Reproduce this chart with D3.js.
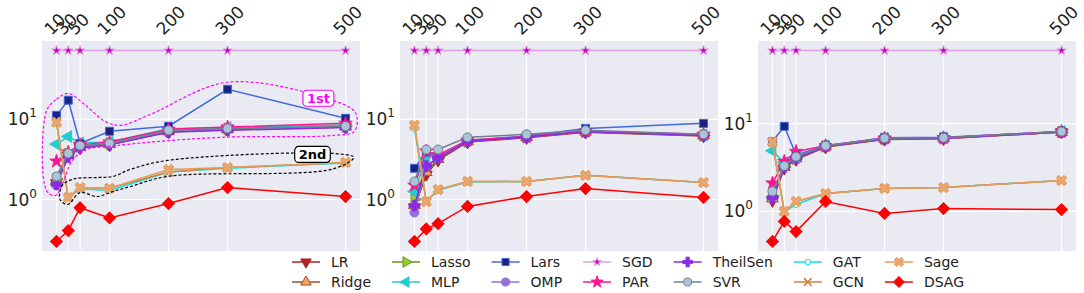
<!DOCTYPE html>
<html>
<head>
<meta charset="utf-8">
<script src="https://cdn.jsdelivr.net/npm/d3@7"></script>
<style>
body { margin: 0; background: #fff; }
svg text { font-family: "DejaVu Sans", sans-serif; }
</style>
</head>
<body>
<svg id="chart" width="1084" height="293"></svg>
<script>
// sample sizes on the x axis (ticks on top)
const sizes = [10, 30, 50, 100, 200, 300, 500];
const methods = ['LR', 'Ridge', 'Lasso', 'MLP', 'Lars', 'OMP', 'SGD', 'PAR', 'TheilSen', 'SVR', 'GAT', 'GCN', 'Sage', 'DSAG'];

// one row per method, same order as `methods`
const panelA = [
    [1.6, 3.5, 4.4, 4.8, 7.0, 7.4, 8.0],      // LR
    [1.7, 3.6, 4.5, 4.9, 7.1, 7.5, 8.1],      // Ridge
    [1.8, 3.7, 4.6, 5.0, 7.2, 7.6, 8.2],      // Lasso
    [4.9, 6.1, 5.1, 5.2, 7.6, 7.9, 8.5],      // MLP
    [11.2, 17.3, 5.0, 7.1, 8.2, 23.7, 10.3],  // Lars
    [1.5, 3.6, 4.5, 4.9, 7.0, 7.5, 8.0],      // OMP
    [72, 72, 72, 72, 72, 72, 72],             // SGD
    [3.0, 3.9, 4.8, 5.2, 7.5, 8.0, 8.9],      // PAR
    [1.55, 3.4, 4.4, 4.8, 6.9, 7.3, 7.9],     // TheilSen
    [1.94, 3.76, 4.7, 5.0, 7.3, 7.7, 8.2],    // SVR
    [9.0, 1.05, 1.36, 1.3, 2.2, 2.45, 2.85],  // GAT
    [9.2, 1.06, 1.41, 1.38, 2.2, 2.5, 2.9],   // GCN
    [9.2, 1.06, 1.41, 1.38, 2.37, 2.5, 2.9],  // Sage
    [0.30, 0.41, 0.79, 0.59, 0.89, 1.41, 1.09] // DSAG
];
const panelB = [
    [0.8, 2.05, 3.1, 5.2, 5.9, 6.9, 6.2],
    [0.85, 2.2, 3.2, 5.3, 6.0, 7.0, 6.3],
    [1.0, 2.6, 3.3, 5.3, 6.0, 7.0, 6.3],
    [1.26, 3.3, 3.5, 5.5, 6.1, 7.1, 6.4],
    [2.45, 3.9, 3.3, 5.4, 6.2, 7.7, 8.9],
    [0.69, 2.6, 3.3, 5.3, 6.0, 7.0, 6.3],
    [72, 72, 72, 72, 72, 72, 72],
    [1.5, 4.0, 3.6, 5.5, 6.1, 7.1, 6.5],
    [0.84, 2.6, 3.3, 5.3, 6.0, 7.0, 6.3],
    [1.68, 4.2, 4.2, 5.96, 6.5, 7.3, 6.5],
    [7.7, 0.95, 1.3, 1.65, 1.68, 2.0, 1.63],
    [8.4, 0.94, 1.33, 1.68, 1.68, 2.0, 1.63],
    [8.4, 0.94, 1.33, 1.68, 1.68, 2.0, 1.63],
    [0.30, 0.43, 0.50, 0.82, 1.09, 1.37, 1.06]
];
const panelC = [
    [1.33, 3.1, 3.9, 5.4, 6.6, 6.7, 8.0],
    [1.4, 3.2, 4.0, 5.5, 6.7, 6.8, 8.0],
    [1.5, 3.2, 4.0, 5.5, 6.7, 6.8, 8.0],
    [4.9, 3.6, 4.1, 5.6, 6.8, 6.9, 8.1],
    [6.2, 9.3, 4.4, 5.6, 6.9, 7.0, 8.1],
    [1.44, 3.2, 4.0, 5.5, 6.7, 6.8, 8.0],
    [67.6, 67.6, 67.6, 67.6, 67.6, 67.6, 67.6],
    [2.1, 3.7, 4.8, 5.6, 6.8, 6.9, 8.1],
    [1.44, 3.2, 4.0, 5.5, 6.7, 6.8, 8.0],
    [1.69, 3.3, 4.2, 5.6, 6.8, 6.9, 8.1],
    [6.0, 1.0, 1.2, 1.6, 1.83, 1.87, 2.25],
    [6.2, 1.0, 1.3, 1.6, 1.83, 1.87, 2.25],
    [6.2, 1.0, 1.3, 1.6, 1.83, 1.87, 2.25],
    [0.456, 0.77, 0.59, 1.3, 0.95, 1.08, 1.05]
];

// hand-drawn group outlines on the first panel, in data units [size, value]
const firstOutline = [[-7, 12.6], [10, 17.8], [30, 21], [59, 15], [93, 9.4], [118, 8.4], [169, 11.5], [300, 29],
    [470, 18], [517, 12], [515, 7.1], [480, 6.3], [300, 6.0], [169, 5.2], [101, 4.6], [59, 4.2], [36, 3.0],
    [20, 1.55], [8, 1.12], [-7, 1.3]];
const secondOutline = [[20, 1.5], [39, 1.8], [79, 1.88], [106, 1.94], [135, 2.37], [198, 3.07], [478, 3.76],
    [514, 3.35], [478, 2.4], [198, 1.94], [135, 1.45], [106, 1.26], [79, 1.09], [50, 1.22], [29, 0.87], [16, 1.0]];
const groupLabels = [['1st', 454, 18.3, '#ff00ff'], ['2nd', 444, 3.65, '#000000']];

const T = d3.symbolTriangle, S = d3.symbolSquare, C = d3.symbolCircle;
const styles = {
    LR:       { line: '#b22222', face: '#b22222', edge: '#b22222', sym: T, rot: 180, size: 60 },
    Ridge:    { line: '#a0522d', face: '#f4a460', edge: '#a0522d', sym: T, rot: 0, size: 60 },
    Lasso:    { line: '#6b8e23', face: '#9acd32', edge: '#6b8e23', sym: T, rot: 90, size: 60 },
    MLP:      { line: '#22cccc', face: '#22cccc', edge: '#22cccc', sym: T, rot: -90, size: 60 },
    Lars:     { line: '#4169e1', face: '#1a237e', edge: '#4169e1', sym: S, rot: 0, size: 64 },
    OMP:      { line: '#9370db', face: '#9370db', edge: '#9370db', sym: C, rot: 0, size: 64 },
    SGD:      { line: '#dda0dd', face: '#cc00cc', edge: '#dda0dd', sym: d3.symbolStar, rot: 0, size: 28 },
    PAR:      { line: '#ff1493', face: '#ff1493', edge: '#ff1493', sym: d3.symbolStar, rot: 0, size: 55 },
    TheilSen: { line: '#8a2be2', face: '#8a2be2', edge: '#8a2be2', sym: d3.symbolCross, rot: 0, size: 64 },
    SVR:      { line: '#708090', face: '#a9c4d8', edge: '#708090', sym: C, rot: 0, size: 64 },
    GAT:      { line: '#00e5ee', face: '#ffffff', edge: '#00e5ee', sym: C, rot: 0, size: 30 },
    GCN:      { line: '#cd853f', face: 'none', edge: '#cd853f', sym: d3.symbolTimes, rot: 0, size: 50 },
    Sage:     { line: '#e89c5a', face: '#e8a870', edge: '#e89c5a', sym: d3.symbolCross, rot: 45, size: 60 },
    DSAG:     { line: '#ff0000', face: '#ff0000', edge: '#ff0000', sym: S, rot: 45, size: 70 }
};

const svg = d3.select('#chart');
const panelTop = 41, panelH = 210, panelW = 318;
const panelLefts = [42, 400, 758];

function marker(sel, st, scale) {
    sel.append('path')
        .attr('d', d3.symbol().type(st.sym).size(st.size * scale))
        .attr('transform', `rotate(${st.rot})`)
        .attr('fill', st.face)
        .attr('stroke', st.edge)
        .attr('stroke-width', st.sym === d3.symbolTimes ? 1.6 : 1);
}

function drawPanel(rows, left, withNotes) {
    let x = d3.scaleLinear().domain([-14.5, 524.5]).range([left, left + panelW]);
    let all = rows.flat().map(v => Math.log10(v));
    let lo = d3.min(all), hi = d3.max(all), pad = (hi - lo) * 0.05;
    let y = d3.scaleLog().domain([10 ** (lo - pad), 10 ** (hi + pad)]).range([panelTop + panelH, panelTop]);

    let g = svg.append('g');
    g.append('rect')
        .attr('x', left).attr('y', panelTop)
        .attr('width', panelW).attr('height', panelH)
        .attr('fill', '#eaeaf2');

    g.selectAll('.vgrid').data(sizes).join('line')
        .attr('x1', d => x(d)).attr('x2', d => x(d))
        .attr('y1', panelTop).attr('y2', panelTop + panelH)
        .attr('stroke', '#fff').attr('stroke-width', 1.2);
    let decades = [1, 10];
    g.selectAll('.hgrid').data(decades).join('line')
        .attr('x1', left).attr('x2', left + panelW)
        .attr('y1', d => y(d)).attr('y2', d => y(d))
        .attr('stroke', '#fff').attr('stroke-width', 1.2);

    // y tick labels 10^0, 10^1
    let yl = g.selectAll('.ylab').data(decades).join('text')
        .attr('x', left - 5).attr('y', d => y(d) + 6)
        .attr('text-anchor', 'end')
        .style('font-size', '17px').attr('fill', '#222');
    yl.append('tspan').text('10');
    yl.append('tspan').attr('dy', -8).style('font-size', '12px').text(d => Math.round(Math.log10(d)));

    // x tick labels along the top, rotated
    g.selectAll('.xlab').data(sizes).join('text')
        .attr('transform', d => `translate(${x(d) - 5}, ${panelTop - 5}) rotate(-45)`)
        .style('font-size', '17px').attr('fill', '#222')
        .text(d => d);

    let line = d3.line().x((d, i) => x(sizes[i])).y(d => y(d));
    rows.forEach((vals, k) => {
        let st = styles[methods[k]];
        g.append('path')
            .attr('d', line(vals))
            .attr('fill', 'none')
            .attr('stroke', st.line)
            .attr('stroke-width', 1.5);
        g.selectAll(null).data(vals).join('g')
            .attr('transform', (d, i) => `translate(${x(sizes[i])}, ${y(d)})`)
            .each(function () { marker(d3.select(this), st, 1); });
    });

    if (withNotes) {
        let outline = d3.line().curve(d3.curveCatmullRomClosed.alpha(0.5))
            .x(d => x(d[0])).y(d => y(d[1]));
        g.append('path').attr('d', outline(firstOutline))
            .attr('fill', 'none').attr('stroke', '#ff00ff')
            .attr('stroke-width', 1.2).attr('stroke-dasharray', '3,2');
        g.append('path').attr('d', outline(secondOutline))
            .attr('fill', 'none').attr('stroke', '#000')
            .attr('stroke-width', 1.2).attr('stroke-dasharray', '3,2');
        groupLabels.forEach(([txt, sx, sv, col]) => {
            let lg = g.append('g').attr('transform', `translate(${x(sx)}, ${y(sv)})`);
            let t = lg.append('text').attr('text-anchor', 'middle').attr('dy', 5)
                .style('font-size', '13px').style('font-weight', 'bold')
                .attr('fill', col).text(txt);
            let w = t.node().getComputedTextLength();
            lg.insert('rect', 'text')
                .attr('x', -w / 2 - 4).attr('y', -8)
                .attr('width', w + 8).attr('height', 16)
                .attr('rx', 4)
                .attr('fill', '#fff').attr('stroke', col).attr('stroke-width', 1.2);
        });
    }
}

drawPanel(panelA, panelLefts[0], true);
drawPanel(panelB, panelLefts[1], false);
drawPanel(panelC, panelLefts[2], false);

// legend: 7 columns x 2 rows, filled column by column
let legend = svg.append('g');
let colX = 292;
for (let c = 0; c < 7; c++) {
    let maxW = 0;
    for (let r = 0; r < 2; r++) {
        let name = methods[c * 2 + r];
        let st = styles[name];
        let ly = 262 + r * 20;
        legend.append('line')
            .attr('x1', colX).attr('x2', colX + 28)
            .attr('y1', ly).attr('y2', ly)
            .attr('stroke', st.line).attr('stroke-width', 1.5);
        let mg = legend.append('g').attr('transform', `translate(${colX + 14}, ${ly})`);
        marker(mg, st, 0.8);
        let t = legend.append('text')
            .attr('x', colX + 39).attr('y', ly + 5)
            .style('font-size', '14px').attr('fill', '#222')
            .text(name);
        maxW = Math.max(maxW, t.node().getComputedTextLength());
    }
    colX += 39 + maxW + 21;
}
</script>
</body>
</html>
